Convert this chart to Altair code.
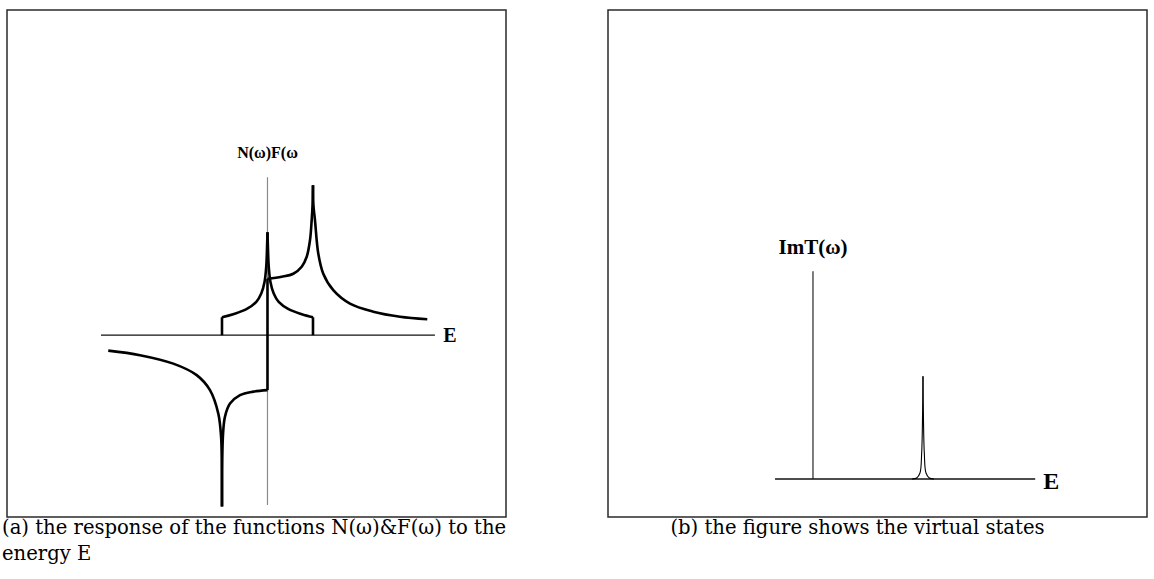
import altair as alt
import pandas as pd

# ---------- panel (a): N(ω) and F(ω) against the energy E ----------
# x in units of the band half-width, y in arbitrary response units

# N(ω): symmetric band response with a cusp at the band centre
n_left_x = [-1.0, -0.754, -0.463, -0.246, -0.137, -0.065, -0.028, -0.007, 0.0]
n_left_y = [0.36, 0.42, 0.52, 0.666, 0.834, 1.066, 1.366, 1.84, 2.06]
n_right_x = [0.0, 0.007, 0.028, 0.065, 0.137, 0.246, 0.463, 0.754, 1.0]
n_right_y = [2.06, 1.84, 1.366, 1.066, 0.834, 0.666, 0.52, 0.42, 0.36]
n_step_left_x = [-1.0, -1.0]
n_step_left_y = [0.0, 0.36]
n_step_right_x = [1.0, 1.0]
n_step_right_y = [0.36, 0.0]

# F(ω): divergent at the band edges, jump at the centre
f_rise_x = [0.0, 0.312, 0.567, 0.752, 0.862, 0.934, 0.971, 0.99, 1.0]
f_rise_y = [1.13, 1.17, 1.23, 1.37, 1.57, 1.90, 2.30, 2.6, 3.0]
f_tail_x = [1.0, 1.01, 1.044, 1.117, 1.226, 1.446, 1.813, 2.325, 2.912, 3.512]
f_tail_y = [3.0, 2.6, 2.30, 1.63, 1.23, 0.90, 0.63, 0.47, 0.37, 0.32]
f_neg_tail_x = [-3.5, -2.802, -2.07, -1.556, -1.264, -1.081, -1.02, -1.004, -1.0]
f_neg_tail_y = [-0.31, -0.40, -0.57, -0.80, -1.10, -1.57, -2.03, -2.6, -3.43]
f_neg_inner_x = [-1.0, -0.996, -0.975, -0.934, -0.824, -0.604, -0.312, 0.0]
f_neg_inner_y = [-3.43, -2.6, -1.95, -1.63, -1.37, -1.20, -1.13, -1.10]
f_jump_x = [0.0, 0.0]
f_jump_y = [-1.10, 1.13]

# reference axes drawn inside panel (a)
a_axis_x = [-3.66, 3.68]
a_vline_y = [-3.4, 3.16]

# ---------- panel (b): Im T(ω) with a narrow virtual-state peak ----------
peak_left_x = [1.80, 1.885, 1.945, 1.976, 1.991, 2.0]
peak_left_y = [0.0, 0.02, 0.12, 0.52, 1.18, 2.06]
peak_right_x = [2.0, 2.009, 2.024, 2.055, 2.115, 2.20]
peak_right_y = [2.06, 1.18, 0.52, 0.12, 0.02, 0.0]
b_axis_x = [-0.69, 4.04]
b_vline_y = [0.0, 4.16]


def path(xs, ys, name):
    return pd.DataFrame({"x": xs, "y": ys, "i": list(range(len(xs))), "seg": name})


sa_x = alt.Scale(domain=[-5.725, 5.242], nice=False, zero=False)
sa_y = alt.Scale(domain=[-3.64, 6.51], nice=False, zero=False)

smooth_a = pd.concat([
    path(n_left_x, n_left_y, "nL"),
    path(n_right_x, n_right_y, "nR"),
    path(f_rise_x, f_rise_y, "fR"),
    path(f_tail_x, f_tail_y, "fT"),
    path(f_neg_tail_x, f_neg_tail_y, "fN"),
    path(f_neg_inner_x, f_neg_inner_y, "fI"),
])
straight_a = pd.concat([
    path(n_step_left_x, n_step_left_y, "sL"),
    path(n_step_right_x, n_step_right_y, "sR"),
    path(f_jump_x, f_jump_y, "fJ"),
])

enc_a = dict(
    x=alt.X("x:Q", scale=sa_x, axis=None),
    y=alt.Y("y:Q", scale=sa_y, axis=None),
    detail="seg:N",
    order="i:Q",
)

vline_a = alt.Chart(pd.DataFrame({"x": [0.0], "y0": [a_vline_y[0]], "y1": [a_vline_y[1]]})).mark_rule(
    color="#8a8a8a", strokeWidth=1.2
).encode(x=alt.X("x:Q", scale=sa_x, axis=None), y=alt.Y("y0:Q", scale=sa_y, axis=None), y2="y1:Q")

haxis_a = alt.Chart(pd.DataFrame({"x0": [a_axis_x[0]], "x1": [a_axis_x[1]], "y": [0.0]})).mark_rule(
    color="#111", strokeWidth=1.2
).encode(x=alt.X("x0:Q", scale=sa_x, axis=None), x2="x1:Q", y=alt.Y("y:Q", scale=sa_y, axis=None))

curves_a = alt.Chart(smooth_a).mark_line(
    color="#000", strokeWidth=2.6, interpolate="catmull-rom", strokeJoin="round"
).encode(**enc_a)
steps_a = alt.Chart(straight_a).mark_line(color="#000", strokeWidth=2.6).encode(**enc_a)

labels_a = alt.Chart(pd.DataFrame({
    "x": [0.0, 4.01], "y": [3.64, -0.02], "t": ["N(ω)F(ω", "E"], "s": [16, 20]
})).mark_text(font="Liberation Serif", fontWeight="bold", baseline="middle", align="center", color="#000").encode(
    x=alt.X("x:Q", scale=sa_x, axis=None),
    y=alt.Y("y:Q", scale=sa_y, axis=None),
    text="t:N",
    size=alt.Size("s:Q", scale=None, legend=None),
)

panel_a = alt.layer(vline_a, haxis_a, curves_a, steps_a, labels_a).properties(
    width=499, height=507,
    title=alt.TitleParams(
        ["(a) the response of the functions N(ω)&F(ω) to the", "energy E"],
        orient="bottom", anchor="start", dx=-5,
    ),
)

sb_x = alt.Scale(domain=[-3.727, 6.073], nice=False, zero=False)
sb_y = alt.Scale(domain=[-0.76, 9.39], nice=False, zero=False)

peak_b = pd.concat([
    path(peak_left_x, peak_left_y, "pL"),
    path(peak_right_x, peak_right_y, "pR"),
])

vline_b = alt.Chart(pd.DataFrame({"x": [0.0], "y0": [b_vline_y[0]], "y1": [b_vline_y[1]]})).mark_rule(
    color="#111", strokeWidth=1.1
).encode(x=alt.X("x:Q", scale=sb_x, axis=None), y=alt.Y("y0:Q", scale=sb_y, axis=None), y2="y1:Q")

haxis_b = alt.Chart(pd.DataFrame({"x0": [b_axis_x[0]], "x1": [b_axis_x[1]], "y": [0.0]})).mark_rule(
    color="#111", strokeWidth=1.5
).encode(x=alt.X("x0:Q", scale=sb_x, axis=None), x2="x1:Q", y=alt.Y("y:Q", scale=sb_y, axis=None))

curve_b = alt.Chart(peak_b).mark_line(color="#000", strokeWidth=1.1, interpolate="catmull-rom").encode(
    x=alt.X("x:Q", scale=sb_x, axis=None),
    y=alt.Y("y:Q", scale=sb_y, axis=None),
    detail="seg:N",
    order="i:Q",
)

labels_b = alt.Chart(pd.DataFrame({
    "x": [0.0, 4.33], "y": [4.62, -0.06], "t": ["ImT(ω)", "E"], "s": [21, 24]
})).mark_text(font="Liberation Serif", fontWeight="bold", baseline="middle", align="center", color="#000").encode(
    x=alt.X("x:Q", scale=sb_x, axis=None),
    y=alt.Y("y:Q", scale=sb_y, axis=None),
    text="t:N",
    size=alt.Size("s:Q", scale=None, legend=None),
)

panel_b = alt.layer(vline_b, haxis_b, curve_b, labels_b).properties(
    width=539, height=507,
    title=alt.TitleParams(
        "(b) the figure shows the virtual states",
        orient="bottom", anchor="middle", dx=-20,
    ),
)

chart = alt.hconcat(panel_a, panel_b, spacing=100).properties(
    padding={"left": 1, "top": 9, "right": 0, "bottom": 0}
).configure_view(
    stroke="#2a2a2a", strokeWidth=1.5
).configure_title(
    font="DejaVu Serif", fontSize=19.6, fontWeight="normal", color="#000",
    baseline="top", offset=2, lineHeight=26,
).configure_concat(spacing=100)

chart.save("out.html", embed_options={"renderer": "svg", "actions": False})
